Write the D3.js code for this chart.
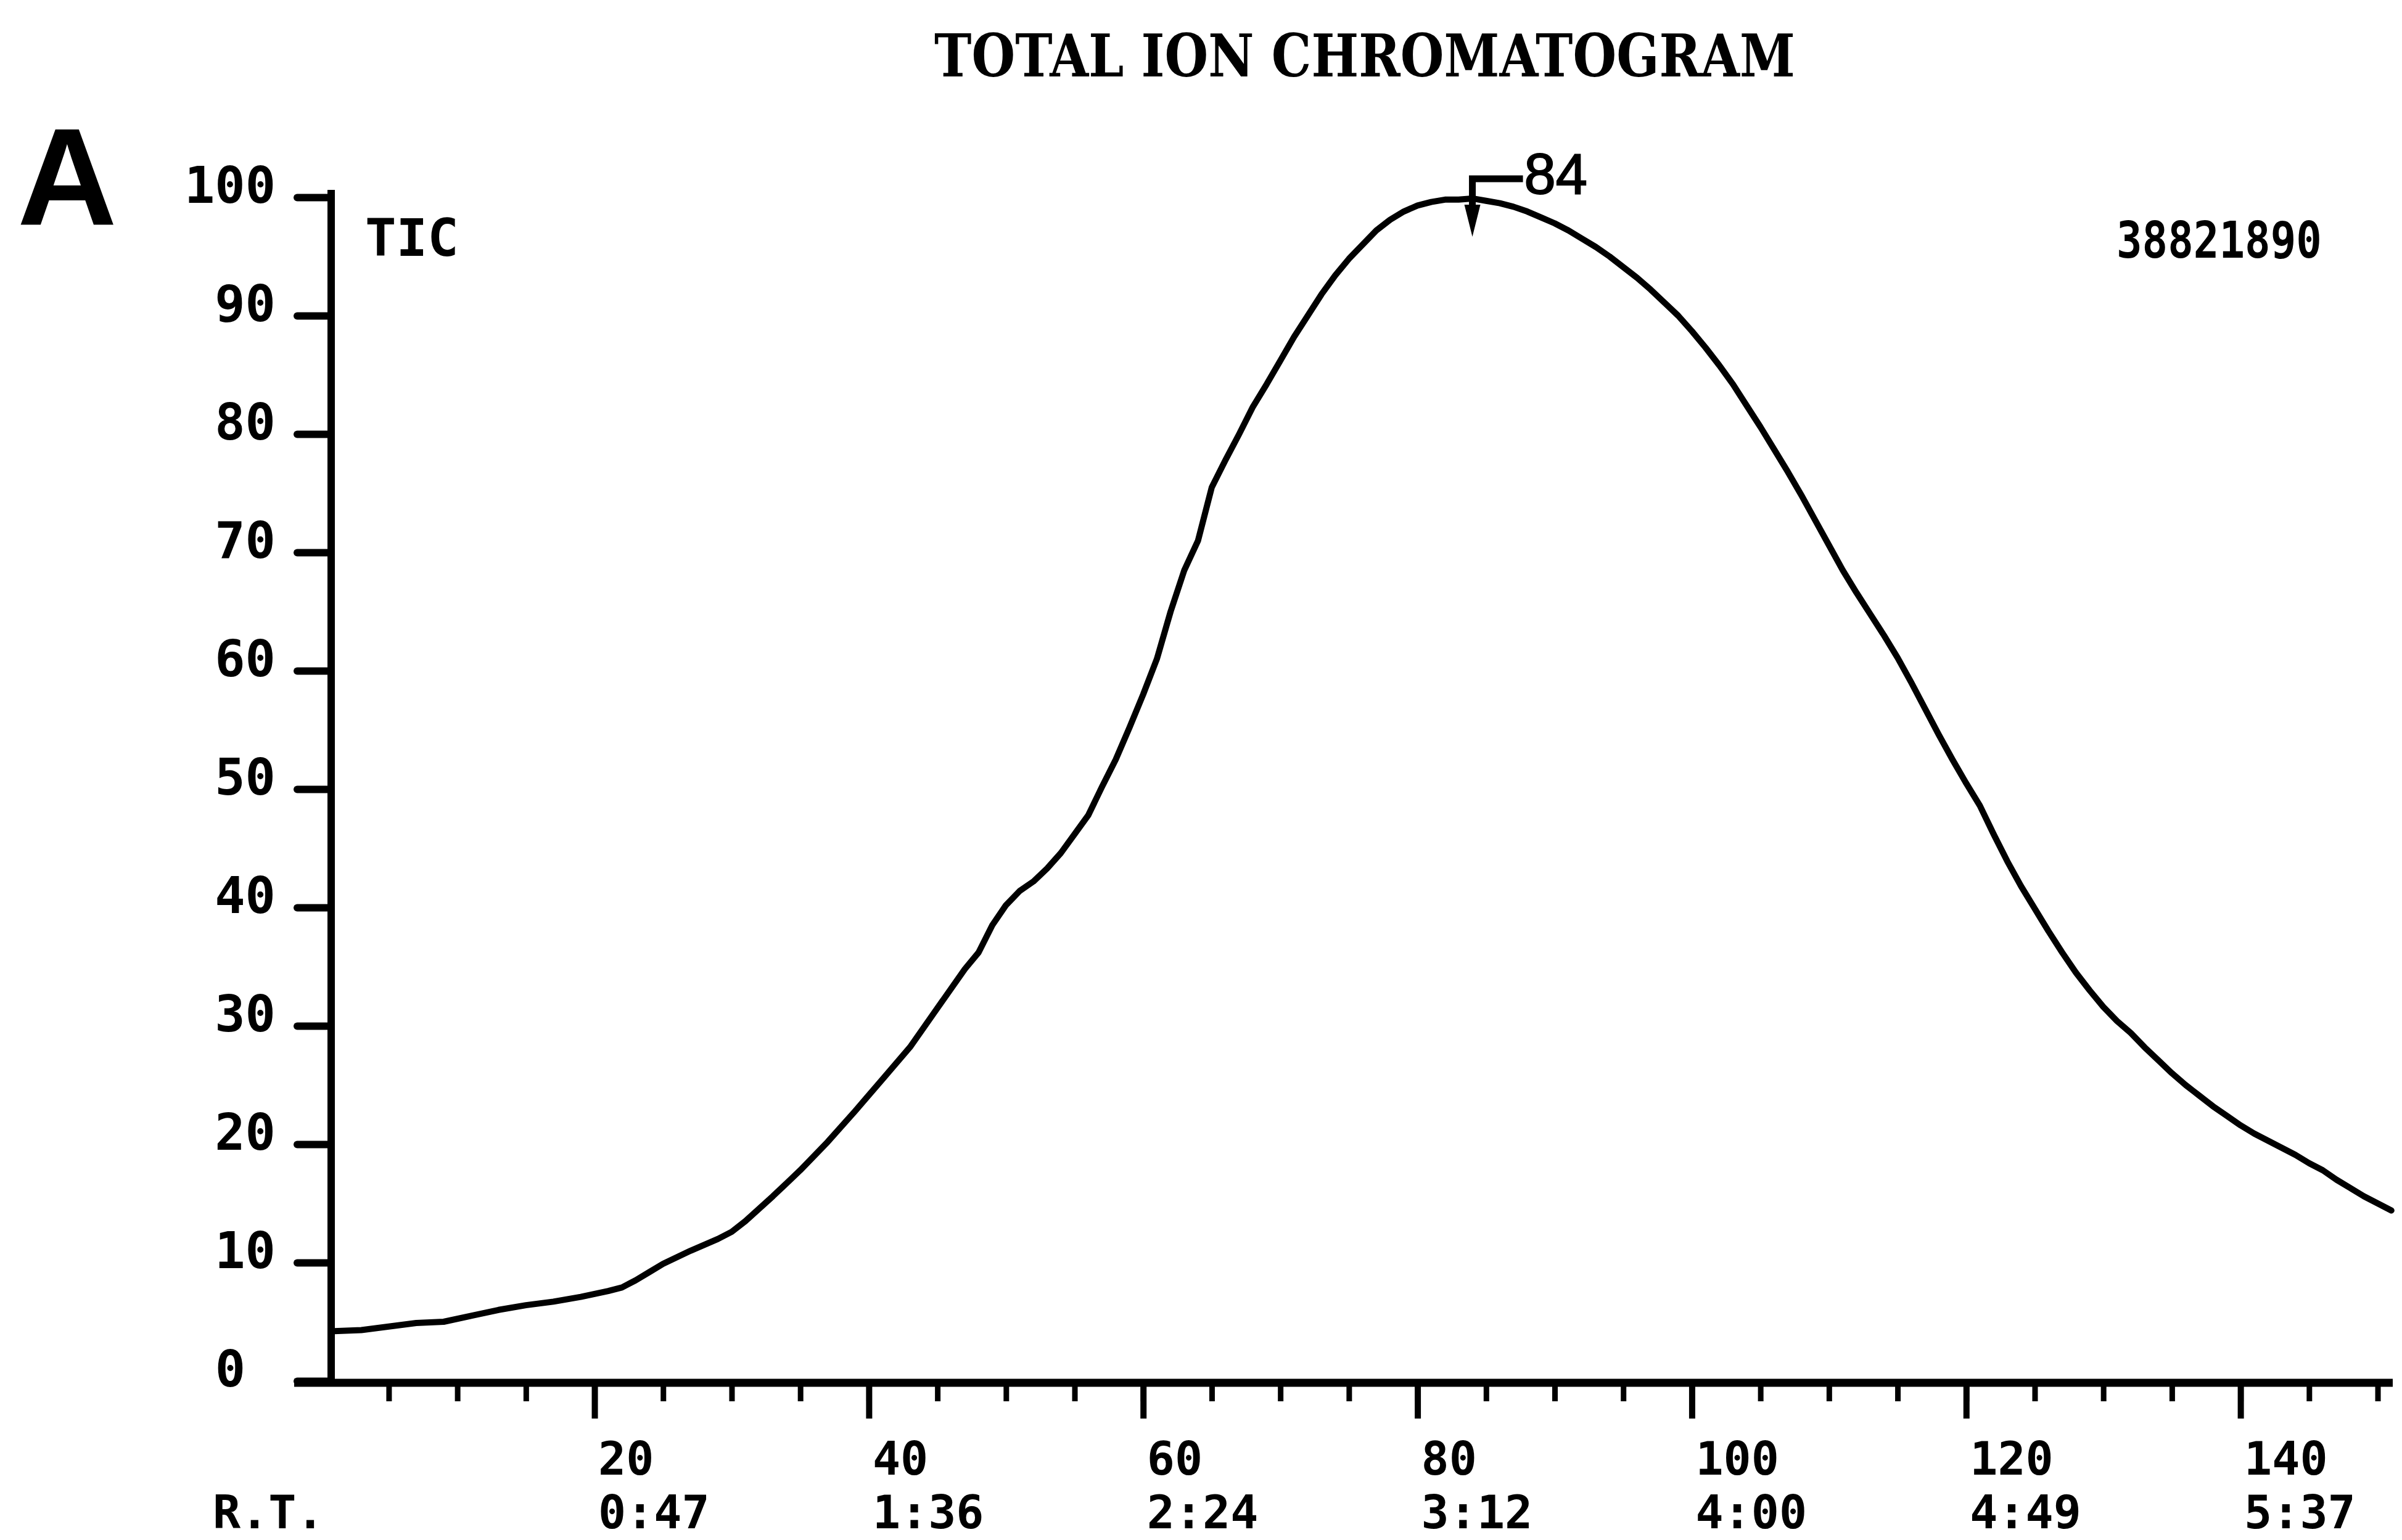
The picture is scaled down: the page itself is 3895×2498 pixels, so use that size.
<!DOCTYPE html>
<html>
<head>
<meta charset="utf-8">
<script src="https://cdn.jsdelivr.net/npm/d3@7"></script>
<style>
  html, body { margin: 0; padding: 0; background: #fff; }
  svg { display: block; }
  .mono { font-family: "DejaVu Sans Mono", "Liberation Mono", monospace; font-weight: bold; fill: #000; }
</style>
</head>
<body>
<svg id="chart" width="3895" height="2498"></svg>
<script>
// Total ion chromatogram: relative intensity (%) per scan number
const scans = [1, 3, 5, 7, 9, 11, 13, 15, 17, 19, 21, 22, 23, 24, 25, 27, 29, 30, 31, 33, 35, 37, 39, 41, 43, 45,
  47, 48, 49, 50, 51, 52, 53, 54, 55, 56, 57, 58, 59, 60, 61, 62, 63, 64, 65, 66, 67, 68, 69, 70,
  71, 72, 73, 74, 75, 76, 77, 78, 79, 80, 81, 82, 83, 84, 85, 86, 87, 88, 89, 90,
  91, 92, 93, 94, 95, 96, 97, 98, 99, 100, 101, 102, 103, 104, 105, 106, 107, 108, 109, 110,
  111, 112, 113, 114, 115, 116, 117, 118, 119, 120, 121, 122, 123, 124, 125, 126, 127, 128, 129, 130,
  131, 132, 133, 134, 135, 136, 137, 138, 139, 140, 141, 142, 143, 144, 145, 146, 147, 148, 149, 150, 151];
const tic = [4.2, 4.3, 4.6, 4.9, 5.0, 5.5, 6.0, 6.4, 6.7, 7.1, 7.6, 7.9, 8.5, 9.2, 9.9, 11.0, 12.0, 12.6, 13.5, 15.6, 17.8, 20.2, 22.8, 25.5, 28.2, 31.5,
  34.8, 36.2, 38.5, 40.2, 41.4, 42.2, 43.3, 44.6, 46.2, 47.8, 50.2, 52.5, 55.2, 58.0, 61.0, 65.0, 68.5, 71.0, 75.5, 77.8, 80.0, 82.3, 84.2, 86.2,
  88.2, 90.0, 91.8, 93.4, 94.8, 96.0, 97.2, 98.1, 98.8, 99.3, 99.6, 99.8, 99.8, 99.9, 99.7, 99.5, 99.2, 98.8, 98.3, 97.8,
  97.2, 96.5, 95.8, 95.0, 94.1, 93.2, 92.2, 91.1, 90.0, 88.7, 87.3, 85.8, 84.2, 82.4, 80.6, 78.7, 76.8, 74.8, 72.7, 70.6,
  68.5, 66.6, 64.8, 63.0, 61.1, 59.0, 56.8, 54.6, 52.5, 50.5, 48.6, 46.2, 43.9, 41.8, 39.9, 38.0, 36.2, 34.5, 33.0, 31.6,
  30.4, 29.4, 28.2, 27.1, 26.0, 25.0, 24.1, 23.2, 22.4, 21.6, 20.9, 20.3, 19.7, 19.1, 18.4, 17.8, 17.0, 16.3, 15.6, 15.0, 14.4];

// Axis ticks and labels
const yTickValues = [0, 10, 20, 30, 40, 50, 60, 70, 80, 90, 100];
const scanTicks = [20, 40, 60, 80, 100, 120, 140];
const timeLabels = ["0:47", "1:36", "2:24", "3:12", "4:00", "4:49", "5:37"];
const minorTicks = d3.range(5, 151, 5);

// Annotations
const titleText = "TOTAL ION CHROMATOGRAM";
const panelLabel = "A";
const traceLabel = "TIC";
const fullScaleLabel = "38821890";
const rtLabel = "R.T.";
const peakScan = 84;
const peakLabel = "84";

const svg = d3.select("#chart");
svg.append("rect").attr("width", 3895).attr("height", 2498).attr("fill", "#fff");

const x = d3.scaleLinear().domain([0.8, 151.1]).range([537, 3880]);
const y = d3.scaleLinear().domain([0, 100]).range([2240, 320]);

// Title and panel letter
svg.append("text")
  .attr("x", 1515).attr("y", 124)
  .attr("textLength", 1396).attr("lengthAdjust", "spacingAndGlyphs")
  .style("font-family", "'DejaVu Serif', 'Liberation Serif', serif")
  .style("font-weight", "bold").style("font-size", "96px")
  .text(titleText);

svg.append("text")
  .attr("x", 28).attr("y", 365)
  .style("font-family", "'Liberation Sans', Arial, sans-serif")
  .style("font-weight", "bold").style("font-size", "224px")
  .text(panelLabel);

// Y axis
const yAxis = d3.axisLeft(y).tickValues(yTickValues).tickSize(55).tickSizeOuter(0).tickFormat(d3.format("d"));
const gy = svg.append("g").attr("transform", `translate(${x.range()[0]},0)`).call(yAxis);
gy.select(".domain").attr("stroke", "#000").attr("stroke-width", 12)
  .attr("d", `M0,${y(0) + 6}V${y(100) - 12}`);
gy.selectAll(".tick line").attr("stroke", "#000").attr("stroke-width", 12).attr("stroke-linecap", "round");
gy.selectAll(".tick text")
  .attr("class", "mono")
  .attr("x", -90).attr("dy", null).attr("y", 8)
  .attr("dx", d => d === 0 ? -49 : 0)
  .style("font-size", "82px");

// X axis: minor ticks every 5 scans, longer major ticks every 20
const xMinor = d3.axisBottom(x).tickValues(minorTicks).tickSize(30).tickSizeOuter(0).tickFormat("");
const gxm = svg.append("g").attr("transform", `translate(0,${y(0) + 3})`).call(xMinor);
gxm.select(".domain").attr("stroke", "#000").attr("stroke-width", 13)
  .attr("d", `M${x.range()[0] - 60},0H${x.range()[1]}`);
gxm.selectAll(".tick line").attr("stroke", "#000").attr("stroke-width", 9);

const xMajor = d3.axisBottom(x).tickValues(scanTicks).tickSize(58).tickSizeOuter(0).tickFormat("");
const gx = svg.append("g").attr("transform", `translate(0,${y(0) + 3})`).call(xMajor);
gx.select(".domain").remove();
gx.selectAll(".tick line").attr("stroke", "#000").attr("stroke-width", 10);

// Scan number and retention-time labels under each major tick
const labels = svg.append("g");
labels.selectAll("text.scan").data(scanTicks).join("text")
  .attr("class", "mono scan")
  .attr("x", d => x(d) + 6).attr("y", 2392)
  .style("font-size", "75px")
  .text(d => d);
labels.selectAll("text.rt").data(scanTicks).join("text")
  .attr("class", "mono rt")
  .attr("x", d => x(d) + 6).attr("y", 2479)
  .style("font-size", "75px")
  .text((d, i) => timeLabels[i]);
labels.append("text").attr("class", "mono")
  .attr("x", 345).attr("y", 2479)
  .style("font-size", "75px").text(rtLabel);

// Trace label and full-scale abundance
svg.append("text").attr("class", "mono")
  .attr("x", 592).attr("y", 415).style("font-size", "84px").text(traceLabel);
svg.append("text").attr("class", "mono")
  .attr("x", 3432).attr("y", 418).style("font-size", "82px")
  .attr("textLength", 333).attr("lengthAdjust", "spacingAndGlyphs")
  .text(fullScaleLabel);

// Chromatogram trace
const pts = scans.map((s, i) => [s, tic[i]]);
const line = d3.line().x(d => x(d[0])).y(d => y(d[1])).curve(d3.curveLinear);
svg.append("path").datum(pts)
  .attr("d", line)
  .attr("fill", "none").attr("stroke", "#000")
  .attr("stroke-width", 10).attr("stroke-linejoin", "round").attr("stroke-linecap", "round");

// Peak marker with scan number
const peakVal = tic[scans.indexOf(peakScan)];
const px = x(peakScan), py = y(peakVal);
const mk = svg.append("g");
mk.append("path")
  .attr("d", `M${px + 82},${py - 32}H${px}V${py + 22}`)
  .attr("fill", "none").attr("stroke", "#000").attr("stroke-width", 11);
mk.append("path")
  .attr("d", `M${px - 13},${py + 10}L${px + 13},${py + 10}L${px},${py + 62}Z`)
  .attr("fill", "#000");
mk.append("text")
  .attr("x", px + 84).attr("y", py - 8)
  .style("font-family", "'Liberation Sans', Arial, sans-serif")
  .style("font-size", "92px").attr("stroke", "#000").attr("stroke-width", 2)
  .text(peakLabel);
</script>
</body>
</html>
